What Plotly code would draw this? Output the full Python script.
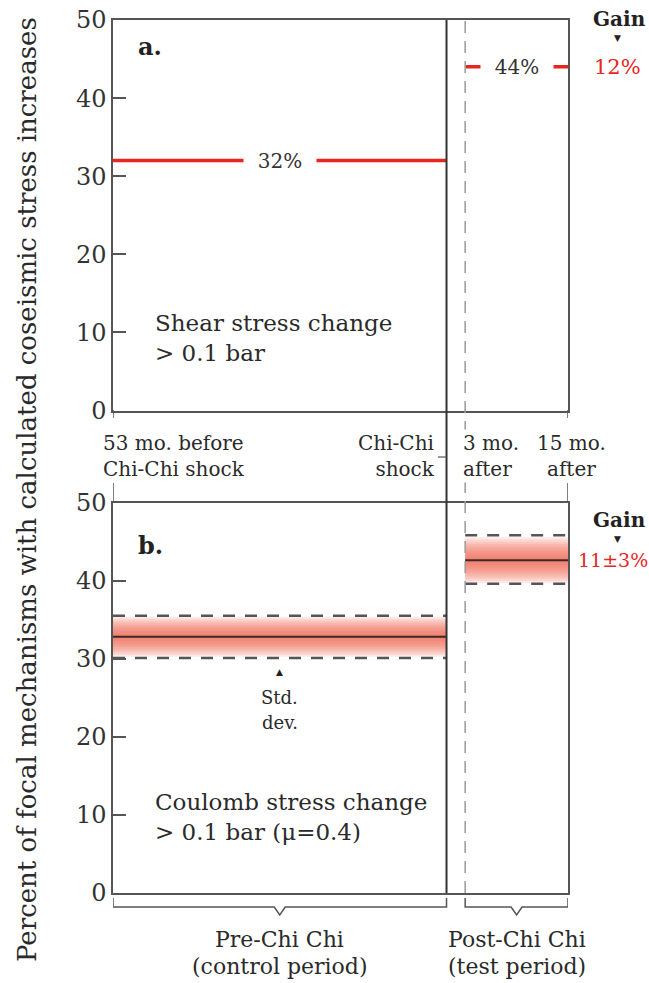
import plotly.graph_objects as go
from plotly.subplots import make_subplots

# schematic time axis (not to scale in the original): start, Chi-Chi shock, +3 mo, +15 mo
time_pos = [0, 73.3, 77.4, 100]
time_labels = ["53 mo. before<br>Chi-Chi shock", "Chi-Chi<br>shock", "3 mo.<br>after", "15 mo.<br>after"]

# panel a: shear stress change > 0.1 bar
shear_pct = [32, 44]
shear_gain = "12%"

# panel b: Coulomb stress change > 0.1 bar (mu=0.4)
coul_mean = [32.8, 42.6]
coul_lo = [30.1, 39.6]
coul_hi = [35.5, 45.8]
coul_gain = "11±3%"

y_ticks = [0, 10, 20, 30, 40, 50]
period_labels = [("Pre-Chi Chi", "(control period)"), ("Post-Chi Chi", "(test period)")]

FONT = "DejaVu Serif"
RED = "#e8261f"
GREY = "#555555"
INK = "#2a2a2a"

W, H = 649, 983
L, R, T, B = 113, 81, 20, 90


def py(p):
    # pixel row -> paper y
    return (H - B - p) / (H - T - B)


def px_(p):
    # pixel column -> paper x
    return (p - L) / (W - L - R)


def note(text, x, y, xref="paper", yref="paper", xanchor="center", size=21,
         color=INK, **kw):
    fig.add_annotation(text=text, x=x, y=y, xref=xref, yref=yref, showarrow=False,
                       xanchor=xanchor, yanchor="middle",
                       font=dict(family=FONT, size=size, color=color), **kw)


pre = (time_pos[0], time_pos[1])
post = (time_pos[2], time_pos[3])
spans = [pre, post]

fig = make_subplots(rows=2, cols=1, shared_xaxes=False, vertical_spacing=92 / 873)

# --- panel a -------------------------------------------------------------
for (x0, x1), v in zip(spans, shear_pct):
    fig.add_trace(go.Scatter(x=[x0, x1], y=[v, v], mode="lines",
                             line=dict(color=RED, width=3.5), showlegend=False,
                             hoverinfo="skip"), row=1, col=1)
    note("&nbsp;&nbsp;%d%%&nbsp;&nbsp;" % v, (x0 + x1) / 2, v, xref="x", yref="y",
         size=20, color="#333", bgcolor="white")

# --- panel b -------------------------------------------------------------
for (x0, x1), m, lo, hi in zip(spans, coul_mean, coul_lo, coul_hi):
    # soft red band around the mean (stacked translucent layers)
    n = 10
    half = (hi - lo) / 2 * 0.95
    for k in range(n):
        h = half * (n - k) / n
        fig.add_shape(type="rect", x0=x0, x1=x1, y0=m - h, y1=m + h,
                      xref="x2", yref="y2", line_width=0, layer="below",
                      fillcolor="rgba(238,100,80,0.14)")
    fig.add_trace(go.Scatter(x=[x0, x1], y=[m, m], mode="lines",
                             line=dict(color="#3a2a28", width=2), showlegend=False,
                             hoverinfo="skip"), row=2, col=1)
    for v in (lo, hi):
        fig.add_trace(go.Scatter(x=[x0, x1], y=[v, v], mode="lines",
                                 line=dict(color=GREY, width=2.5, dash="12px,10px"),
                                 showlegend=False, hoverinfo="skip"), row=2, col=1)

# --- axes ----------------------------------------------------------------
for r in (1, 2):
    fig.update_xaxes(range=[time_pos[0], time_pos[-1]], showline=True, mirror=True,
                     linecolor=GREY, linewidth=1.5, showticklabels=False, ticks="",
                     showgrid=False, zeroline=False, automargin=False, row=r, col=1)
    fig.update_yaxes(range=[0, 50], tickvals=y_ticks, showline=True, mirror=True,
                     linecolor=GREY, linewidth=1.5, ticks="inside", ticklen=13,
                     tickcolor=GREY, tickwidth=1.5, showgrid=False, zeroline=False,
                     automargin=False, ticklabeloverflow="allow",
                     tickfont=dict(family=FONT, size=24, color="#333"),
                     row=r, col=1)

# vertical markers: Chi-Chi shock (solid) and 3 mo. after (dashed), through both panels
fig.add_shape(type="line", xref="x", yref="paper", x0=time_pos[1], x1=time_pos[1],
              y0=0, y1=1, line=dict(color="#333", width=2))
fig.add_shape(type="line", xref="x", yref="paper", x0=time_pos[2], x1=time_pos[2],
              y0=0, y1=1, line=dict(color="#999", width=1.5, dash="12px,8px"))
# frame stubs in the gap between the panels
for xp in (time_pos[0], time_pos[3]):
    fig.add_shape(type="line", xref="x", yref="paper", x0=xp, x1=xp,
                  y0=py(418), y1=py(410), line=dict(color=GREY, width=1.5))
    fig.add_shape(type="line", xref="x", yref="paper", x0=xp, x1=xp,
                  y0=py(502), y1=py(483), line=dict(color=GREY, width=1.5))
fig.add_shape(type="line", xref="x", yref="paper", x0=time_pos[1] - 1.9, x1=time_pos[1],
              y0=py(457), y1=py(457), line=dict(color=GREY, width=1.2))

# braces under panel b
for x0, x1 in spans:
    xm = (x0 + x1) / 2
    ytop, ybar, ytip = py(898), py(907), py(915)
    path = (f"M {x0},{ytop} L {x0},{ybar} L {xm - 1.2},{ybar} L {xm},{ytip} "
            f"L {xm + 1.2},{ybar} L {x1},{ybar} L {x1},{ytop}")
    fig.add_shape(type="path", xref="x", yref="paper", path=path,
                  line=dict(color=GREY, width=1.5))

# --- text ----------------------------------------------------------------
note("<b>a.</b>", px_(136), py(46), xanchor="left", size=24, color="#222")
note("<b>b.</b>", px_(136), py(545), xanchor="left", size=24, color="#222")

note("Shear stress change<br>> 0.1 bar", px_(153), py(338), xanchor="left", size=23, align="left")
note("Coulomb stress change<br>> 0.1 bar (μ=0.4)", px_(153), py(817), xanchor="left", size=23,
     align="left")

# gain labels
for ytop, val, yv, ya, sz, xc in ((19, shear_gain, shear_pct[1], "y", 21, 617),
                                  (520, coul_gain, coul_mean[1], "y2", 19, 613)):
    note("<b>Gain</b>", px_(619), py(ytop), size=20, color="#222")
    note("▼", px_(617), py(ytop + 19), size=9, color="#222")
    note(val, px_(xc), yv, yref=ya, size=sz, color=RED)

# std. dev. pointer
xm = (pre[0] + pre[1]) / 2
note("▲", xm, py(672), xref="x", size=9, color="#222")
note("Std.", xm, py(697), xref="x", size=18)
note("dev.", xm, py(722), xref="x", size=18)

# time labels between the panels
ylab = py(456)
note(time_labels[0], time_pos[0], ylab, xref="x", xanchor="left", xshift=-12, size=20,
     align="left")
note(time_labels[1], time_pos[1], ylab, xref="x", xanchor="right", xshift=-10, size=20,
     align="right")
note(time_labels[2], time_pos[2], ylab, xref="x", xanchor="left", xshift=-4, size=20,
     align="left", bgcolor="white")
note(time_labels[3], time_pos[3], ylab, xref="x", size=20, xshift=3, align="center")

# period labels under braces
for (x0, x1), (l1, l2) in zip(spans, period_labels):
    note(l1, (x0 + x1) / 2, py(939), xref="x", size=22)
    note(l2, (x0 + x1) / 2, py(967), xref="x", size=22)

# y-axis title
note("Percent of focal mechanisms with calculated coseismic stress increases",
     px_(27), py(490), size=26, textangle=-90)

fig.update_layout(width=W, height=H, margin=dict(l=L, r=R, t=T, b=B, autoexpand=False),
                  plot_bgcolor="white", paper_bgcolor="white", showlegend=False)

# drop the default body margin so the 649x983 figure fills the window exactly
fig.write_html("out.html", config={"displayModeBar": False},
               post_script="document.body.style.margin='0';")
